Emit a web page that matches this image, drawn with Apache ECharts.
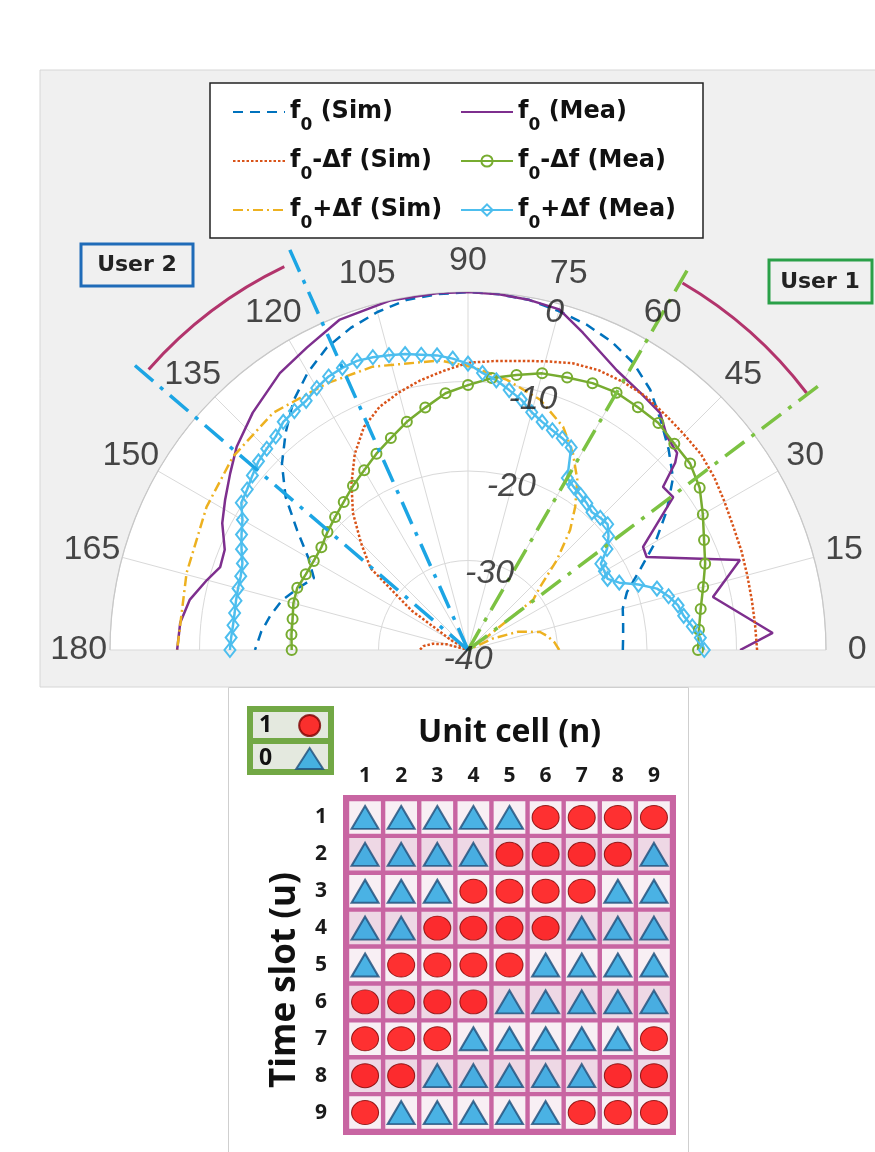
<!DOCTYPE html>
<html>
<head>
<meta charset="utf-8">
<script src="https://cdn.jsdelivr.net/npm/echarts@6/dist/echarts.min.js"></script>
<style>
html, body { margin: 0; background: #fff; }
#main { width: 875px; height: 1152px; }
</style>
</head>
<body>
<div id="main"></div>
<script>
// ---- polar pattern (angle in degrees, level in dB) ----
var thetaTicks = [0, 15, 30, 45, 60, 75, 90, 105, 120, 135, 150, 165, 180];
var rTicks = [-40, -30, -20, -10, 0];
var seriesNames = ['f0 (Sim)', 'f0 (Mea)', 'f0-Δf (Sim)', 'f0-Δf (Mea)', 'f0+Δf (Sim)', 'f0+Δf (Mea)'];

var angles5 = [0, 5, 10, 15, 20, 25, 30, 35, 40, 45, 50, 55, 60, 65, 70, 75, 80, 85, 90,
  95, 100, 105, 110, 115, 120, 125, 130, 135, 140, 145, 150, 155, 160, 165, 170, 175, 180];
var angles3 = [0, 3, 6, 9, 12, 15, 18, 21, 24, 27, 30, 33, 36, 39, 42, 45, 48, 51, 54, 57, 60,
  63, 66, 69, 72, 75, 78, 81, 84, 87, 90, 93, 96, 99, 102, 105, 108, 111, 114, 117, 120,
  123, 126, 129, 132, 135, 138, 141, 144, 147, 150, 153, 156, 159, 162, 165, 168, 171, 174, 177, 180];

// f0 (Sim)
var f0SimDb = [-22.7, -22.6, -22.4, -22.1, -21.1, -18.8, -15.8, -12.9, -10.1, -8.3, -6.5, -4.5, -3.0,
  -2.0, -1.3, -0.8, -0.3, -0.1, 0, -0.1, -0.3, -0.9, -1.7, -2.7, -4.2, -6.0, -8.3, -10.6, -13.4,
  -16.7, -19.4, -21.0, -19.8, -18.5, -17.6, -16.8, -16.2];

// f0 (Mea)
var f0MeaAngle = [0, 3.2, 12.2, 18.3, 27.5, 30.5, 36.7, 39.9, 42.1, 43.3, 47, 51, 56.2, 62, 70.1, 75,
  80, 85, 90, 95, 102.6, 111.2, 118, 124.2, 132.2, 138.7, 143.4, 148.3, 152.7, 157.6, 161.5, 165,
  169.8, 174.6, 180];
var f0MeaDb = [-9.6, -5.9, -12.0, -8.0, -17.5, -17.3, -11.4, -11.6, -8.8, -7.9, -7.4, -5.9, -5.4, -4.6,
  -2.3, -0.6, -0.3, -0.1, 0, 0, 0, -0.4, -1.7, -2.6, -4.2, -5.6, -6.9, -8.1, -9.1, -10.6, -10.8, -9.8,
  -8.4, -7.7, -7.5];

// f0-Δf (Sim)
var lowSimDb = [-7.7, -7.8, -7.8, -7.7, -7.5, -7.3, -6.9, -6.4, -6.0, -5.9, -5.7, -5.4, -5.4, -5.5,
  -5.9, -6.6, -7.2, -7.6, -7.9, -8.7, -9.4, -10.2, -11.1, -12.5, -14.7, -17.3, -20.0, -23.1, -25.8,
  -32.3, -38.0, -40, -40, -37.5, -36.0, -35.0, -34.6];

// f0-Δf (Mea)
var lowMeaDb = [-14.3, -14.1, -13.6, -12.8, -11.8, -10.9, -9.7, -8.4, -7.6, -7.4, -6.9, -6.9, -6.8,
  -7.1, -7.6, -8.0, -8.8, -9.5, -10.4, -11.2, -12.5, -13.6, -14.8, -15.8, -16.8, -17.6, -18.4, -19.0,
  -19.5, -20.0, -20.1, -20.0, -19.7, -19.8, -20.1, -20.2, -20.3];

// f0+Δf (Sim)
var highSimAngle = [0, 5, 10, 14, 20, 25, 30, 33, 34.5, 37.6, 41.2, 45.3, 49.6, 53.2, 57.3, 61.9, 66.9,
  73.9, 81.8, 89, 95.5, 108.6, 117.8, 129.4, 140.6, 151.3, 164.7, 180];
var highSimDb = [-29.8, -30.3, -31.0, -31.7, -34.0, -37.0, -40, -40, -37.4, -30.8, -29.3, -25.9, -22.4,
  -20.0, -17.4, -15.1, -12.9, -10.9, -9.5, -8.4, -7.5, -6.6, -6.3, -5.7, -6.0, -6.7, -7.4, -7.5];

// f0+Δf (Mea)
var highMeaDb = [-13.6, -14.0, -14.8, -15.6, -16.0, -16.8, -17.8, -19.6, -21.5, -22.5, -22.4, -22.3,
  -20.8, -19.8, -19.0, -19.1, -19.3, -18.9, -18.6, -18.3, -17.8, -14.6, -14.1, -13.7, -13.2, -12.5,
  -11.4, -10.6, -9.7, -9.0, -8.0, -7.4, -6.9, -6.6, -6.2, -5.9, -5.6, -5.4, -5.5, -5.7, -6.2, -6.8,
  -7.0, -7.2, -7.9, -8.2, -8.5, -9.0, -9.5, -9.8, -10.9, -11.6, -12.3, -13.0, -13.3, -13.4, -13.5,
  -13.6, -13.6, -13.5, -13.4];

// beam annotations
var user1Beam = [37, 60];
var user2Beam = [114, 139.5];
var beamReach = 9.5;
var userArcs = [[7.5, 37.2, 59.7], [7.5, 115.6, 138.7]];

// ---- time-coding matrix (rows: time slot, cols: unit cell) ----
var unitCells = ['1', '2', '3', '4', '5', '6', '7', '8', '9'];
var timeSlots = ['1', '2', '3', '4', '5', '6', '7', '8', '9'];
var codeRows = [
  [0, 0, 0, 0, 0, 1, 1, 1, 1],
  [0, 0, 0, 0, 1, 1, 1, 1, 0],
  [0, 0, 0, 1, 1, 1, 1, 0, 0],
  [0, 0, 1, 1, 1, 1, 0, 0, 0],
  [0, 1, 1, 1, 1, 0, 0, 0, 0],
  [1, 1, 1, 1, 0, 0, 0, 0, 0],
  [1, 1, 1, 0, 0, 0, 0, 0, 1],
  [1, 1, 0, 0, 0, 0, 0, 1, 1],
  [1, 0, 0, 0, 0, 0, 1, 1, 1]
];

function pairs(angles, db) {
  return db.map(function (v, i) { return [v, angles[i]]; });
}
function bitCells(bit) {
  var out = [];
  codeRows.forEach(function (row, r) {
    row.forEach(function (b, c) { if (b === bit) out.push([c, r]); });
  });
  return out;
}
var allCells = bitCells(0).concat(bitCells(1));

var polarFont = 'Liberation Sans';
var boldFont = 'DejaVu Sans';
var gridFont = 'Open Sans';
var richLegend = {
  m: { fontSize: 24, fontWeight: 'bold', fontFamily: boldFont, color: '#111', lineHeight: 44, verticalAlign: 'middle' },
  s: { fontSize: 17, fontWeight: 'bold', fontFamily: boldFont, color: '#111', lineHeight: 14, verticalAlign: 'bottom' }
};
function legendName(name) {
  return name.replace(/^f0(.*)$/, '{m|f}{s|0}{m|$1}');
}
// legend entries: plain lines carry no marker
function legendItem(name, hasMarker) {
  return hasMarker ? { name: name } : { name: name, itemStyle: { opacity: 0 } };
}

function curve(name, data, color, type, width, extra) {
  var s = {
    name: name, type: 'line', coordinateSystem: 'polar', data: data,
    symbol: 'none', showSymbol: false, smooth: false, z: 3,
    lineStyle: { color: color, type: type, width: width },
    itemStyle: { color: color }
  };
  return Object.assign(s, extra || {});
}
function beamSeries(angles, color) {
  return {
    type: 'custom', coordinateSystem: 'polar', silent: true, z: 6,
    data: angles.map(function (a) { return [beamReach, a]; }),
    renderItem: function (params, api) {
      var p0 = api.coord([-40, api.value(1)]);
      var p1 = api.coord([api.value(0), api.value(1)]);
      return {
        type: 'line',
        shape: { x1: p0[0], y1: p0[1], x2: p1[0], y2: p1[1] },
        style: { stroke: color, lineWidth: 3.5, lineDash: [24, 9, 4, 9], fill: null }
      };
    }
  };
}

var option = {
  backgroundColor: '#ffffff',
  animation: false,
  graphic: [
    { type: 'rect', z: -10, shape: { x: 40, y: 70, width: 840, height: 617 },
      style: { fill: '#f0f0f0', stroke: '#d6d6d6', lineWidth: 1 } },
    { type: 'rect', z: -9, shape: { x: 228.5, y: 687.5, width: 460, height: 470 },
      style: { fill: '#ffffff', stroke: '#cfcfcf', lineWidth: 1 } },
    { type: 'rect', z: -8, shape: { x: 210, y: 83, width: 493, height: 155 },
      style: { fill: '#ffffff', stroke: '#222', lineWidth: 1.5 } },
    { type: 'rect', z: -8, shape: { x: 81, y: 244, width: 112, height: 42 },
      style: { fill: '#f0f0f0', stroke: '#1f6bb8', lineWidth: 3 } },
    { type: 'text', z: -7, x: 137, y: 265,
      style: { text: 'User 2', fontSize: 22, fontWeight: 'bold', fontFamily: boldFont, fill: '#222', align: 'center', verticalAlign: 'middle' } },
    { type: 'rect', z: -8, shape: { x: 769, y: 260, width: 103, height: 43 },
      style: { fill: '#f0f0f0', stroke: '#2aa048', lineWidth: 3 } },
    { type: 'text', z: -7, x: 820, y: 282,
      style: { text: 'User 1', fontSize: 22, fontWeight: 'bold', fontFamily: boldFont, fill: '#222', align: 'center', verticalAlign: 'middle' } },
    { type: 'rect', z: -6, shape: { x: 247, y: 706, width: 87, height: 69 },
      style: { fill: '#72a845' } },
    { type: 'rect', z: -5, shape: { x: 253, y: 712, width: 75, height: 26 },
      style: { fill: '#e4e9df' } },
    { type: 'rect', z: -5, shape: { x: 253, y: 744, width: 75, height: 25 },
      style: { fill: '#e4e9df' } }
  ],
  legend: [
    { data: [legendItem(seriesNames[0]), legendItem(seriesNames[2]), legendItem(seriesNames[4])],
      orient: 'vertical', left: 232, top: 100,
      padding: 0, itemGap: 15, itemWidth: 52, itemHeight: 14, selectedMode: false,
      formatter: legendName, textStyle: { rich: richLegend } },
    { data: [legendItem(seriesNames[1]), legendItem(seriesNames[3], true), legendItem(seriesNames[5], true)],
      orient: 'vertical', left: 460, top: 100,
      padding: 0, itemGap: 15, itemWidth: 52, itemHeight: 14, selectedMode: false,
      formatter: legendName, textStyle: { rich: richLegend } },
    { data: ['1', '0'], orient: 'vertical', left: 259, top: 714, padding: 0, align: 'right',
      itemGap: 10, itemWidth: 27, itemHeight: 21, selectedMode: false,
      textStyle: { fontSize: 23, fontWeight: 'bold', fontFamily: gridFont, color: '#111', padding: [0, 19, 0, 0] } }
  ],
  polar: { center: [468, 650], radius: [0, 358] },
  angleAxis: {
    type: 'value', min: 0, max: 180, interval: 15, startAngle: 0, endAngle: 180, clockwise: false, z: 2,
    axisLine: { lineStyle: { color: '#c8c8c8', width: 1.2 } },
    axisTick: { show: false },
    axisLabel: { show: false },
    splitLine: { lineStyle: { color: '#d9d9d9', width: 1 } }
  },
  radiusAxis: {
    type: 'value', min: -40, max: 0, interval: 10, z: 2,
    axisLine: { show: false }, axisTick: { show: false }, axisLabel: { show: false },
    splitLine: { lineStyle: { color: '#d9d9d9', width: 1 } }
  },
  grid: {
    left: 347, top: 799, width: 325, height: 332, show: true,
    backgroundColor: '#c865a2', borderColor: '#c865a2', borderWidth: 8
  },
  xAxis: {
    type: 'category', data: unitCells, position: 'top',
    axisLine: { show: false }, axisTick: { show: false }, splitLine: { show: false },
    axisLabel: { fontSize: 21, fontWeight: 'bold', fontFamily: gridFont, color: '#1a1a1a', margin: 12 },
    name: 'Unit cell (n)', nameLocation: 'middle', nameGap: 50,
    nameTextStyle: { fontSize: 32, fontWeight: 'bold', fontFamily: gridFont, color: '#111' }
  },
  yAxis: {
    type: 'category', data: timeSlots, inverse: true,
    axisLine: { show: false }, axisTick: { show: false }, splitLine: { show: false },
    axisLabel: { fontSize: 21, fontWeight: 'bold', fontFamily: gridFont, color: '#1a1a1a', margin: 20 },
    name: 'Time slot (u)', nameLocation: 'middle', nameGap: 44, nameRotate: 90,
    nameTextStyle: { fontSize: 35, fontWeight: 'bold', fontFamily: gridFont, color: '#111', padding: [0, 30, 0, 0] }
  },
  series: [
    {
      type: 'custom', coordinateSystem: 'polar', silent: true, z: 1,
      data: [[0, thetaTicks[0], thetaTicks[thetaTicks.length - 1]]],
      renderItem: function (params, api) {
        var cs = params.coordSys;
        return {
          type: 'sector',
          shape: { cx: cs.cx, cy: cs.cy, r0: 0, r: cs.r, startAngle: -api.value(2) * Math.PI / 180,
            endAngle: -api.value(1) * Math.PI / 180, clockwise: true },
          style: { fill: '#ffffff' }
        };
      }
    },
    curve(seriesNames[0], pairs(angles5, f0SimDb), '#0072bd', [10, 7], 2.5),
    curve(seriesNames[1], pairs(f0MeaAngle, f0MeaDb), '#7e2f8e', 'solid', 2.5),
    curve(seriesNames[2], pairs(angles5, lowSimDb), '#d95319', [2.5, 2], 2.5),
    curve(seriesNames[4], pairs(highSimAngle, highSimDb), '#edb120', [10, 4, 2, 4], 2.5),
    curve(seriesNames[3], pairs(angles5, lowMeaDb), '#77ac30', 'solid', 2.5, {
      showSymbol: true, symbol: 'circle', symbolSize: 10,
      itemStyle: { color: 'rgba(255,255,255,0)', borderColor: '#77ac30', borderWidth: 2 }
    }),
    curve(seriesNames[5], pairs(angles3, highMeaDb), '#4dbeee', 'solid', 2.5, {
      showSymbol: true, symbol: 'diamond', symbolSize: [11, 14],
      itemStyle: { color: 'rgba(255,255,255,0)', borderColor: '#4dbeee', borderWidth: 2 }
    }),
    beamSeries(user1Beam, '#7cc242'),
    beamSeries(user2Beam, '#1ca5e4'),
    {
      type: 'custom', coordinateSystem: 'polar', data: userArcs, silent: true, z: 5,
      renderItem: function (params, api) {
        var cs = params.coordSys;
        var p = api.coord([api.value(0), api.value(1)]);
        var rr = Math.sqrt((p[0] - cs.cx) * (p[0] - cs.cx) + (p[1] - cs.cy) * (p[1] - cs.cy));
        return {
          type: 'arc',
          shape: { cx: cs.cx, cy: cs.cy, r: rr, startAngle: -api.value(2) * Math.PI / 180,
            endAngle: -api.value(1) * Math.PI / 180, clockwise: true },
          style: { stroke: '#b2346c', lineWidth: 3, fill: null }
        };
      }
    },
    {
      type: 'scatter', coordinateSystem: 'polar', clip: false, silent: true, z: 8,
      data: rTicks.map(function (v) { return [v, 76]; }),
      symbolSize: 1, itemStyle: { color: 'rgba(0,0,0,0)' },
      label: { show: true, position: 'inside', offset: [0, 10], formatter: function (p) { return p.value[0]; },
        fontSize: 34, fontStyle: 'italic', fontFamily: polarFont, color: '#1a1a1a' }
    },
    {
      type: 'scatter', coordinateSystem: 'polar', clip: false, silent: true, z: 8,
      data: thetaTicks.map(function (t) { return [3.5, t]; }),
      symbolSize: 1, itemStyle: { color: 'rgba(0,0,0,0)' },
      label: { show: true, position: 'inside', formatter: function (p) { return p.value[1]; },
        fontSize: 34, fontFamily: polarFont, color: '#1a1a1a' }
    },
    {
      type: 'custom', coordinateSystem: 'cartesian2d', data: allCells, silent: true, z: 2,
      renderItem: function (params, api) {
        var c = api.coord([api.value(0), api.value(1)]);
        var sz = api.size([1, 1]);
        var inset = 2.2;
        return {
          type: 'rect',
          shape: { x: c[0] - sz[0] / 2 + inset, y: c[1] - sz[1] / 2 + inset,
            width: sz[0] - 2 * inset, height: sz[1] - 2 * inset },
          style: { fill: api.value(1) % 2 === 0 ? '#f8eff4' : '#eed8e5' }
        };
      }
    },
    {
      name: '1', type: 'scatter', data: bitCells(1), symbol: 'circle', symbolSize: [27, 24], z: 4,
      itemStyle: { color: '#ff0000', borderColor: '#7a0000', borderWidth: 1 }
    },
    {
      name: '0', type: 'scatter', data: bitCells(0), symbol: 'triangle', symbolSize: [27, 23], z: 4,
      itemStyle: { color: '#1ea2e0', borderColor: '#1f4e79', borderWidth: 2 }
    }
  ]
};

var chart = echarts.init(document.getElementById('main'));
chart.setOption(option);
</script>
</body>
</html>
